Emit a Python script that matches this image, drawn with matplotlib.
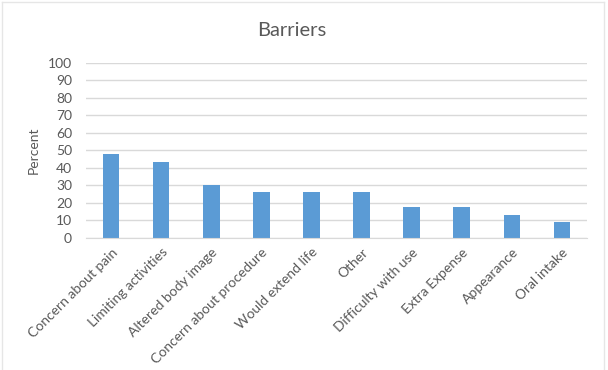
import matplotlib
matplotlib.use("Agg")
import matplotlib.pyplot as plt
from matplotlib.lines import Line2D

categories = ["Concern about pain", "Limiting activities", "Altered body image",
              "Concern about procedure", "Would extend life", "Other",
              "Difficulty with use", "Extra Expense", "Appearance", "Oral intake"]
percent = [47.8, 43.5, 30.4, 26.1, 26.1, 26.1, 17.4, 17.4, 13.0, 8.7]
yticks = [0, 10, 20, 30, 40, 50, 60, 70, 80, 90, 100]

plt.rcParams['font.family'] = ['Lato', 'DejaVu Sans']
text_color = "#595959"
grid_color = "#D9D9D9"
bar_color = "#5B9BD5"

fig = plt.figure(figsize=(6.08, 3.70), dpi=100)
ax = fig.add_axes([86/608, 1-237.7/370, 501/608, 175/370])

x = range(len(categories))
ax.bar(x, percent, width=0.33, color=bar_color, zorder=3)
ax.set_xlim(-0.5, len(categories)-0.5)
ax.set_ylim(0, 100)
ax.set_yticks(yticks)
ax.set_yticklabels([str(t) for t in yticks], color=text_color, fontsize=10)
ax.yaxis.grid(True, color=grid_color, linewidth=1, zorder=0)
ax.set_axisbelow(True)
for s in ["top", "right", "left"]:
    ax.spines[s].set_visible(False)
ax.spines["bottom"].set_color(grid_color)
ax.spines["bottom"].set_zorder(4)
ax.tick_params(axis="both", length=0)
ax.tick_params(axis="y", pad=10)
ax.set_xticks(list(x))
ax.set_xticklabels(categories, rotation=45, ha="right", rotation_mode="anchor",
                   color=text_color, fontsize=10)
ax.tick_params(axis="x", pad=6)
ax.set_ylabel("Percent", color=text_color, fontsize=10, labelpad=6)

fig.text(292/608, 1-30/370, "Barriers", ha="center", va="center",
         color=text_color, fontsize=14.5)

border = "#E6E6E6"
fig.add_artist(Line2D([2/608, 2/608], [0, 1-2/370], transform=fig.transFigure, color=border, lw=1))
fig.add_artist(Line2D([2/608, 604/608], [1-2/370, 1-2/370], transform=fig.transFigure, color=border, lw=1))
fig.add_artist(Line2D([604/608, 604/608], [0, 1-2/370], transform=fig.transFigure, color=border, lw=1))

fig.savefig("out.png", dpi=100)
